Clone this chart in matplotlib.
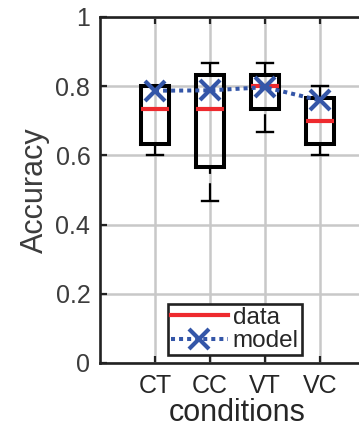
import matplotlib
matplotlib.use("Agg")
import matplotlib.pyplot as plt
from matplotlib.lines import Line2D

# Per-condition accuracy summaries
categories = ["CT", "CC", "VT", "VC"]
medians = [0.733, 0.733, 0.800, 0.700]
q1 = [0.633, 0.567, 0.733, 0.633]
q3 = [0.800, 0.833, 0.833, 0.767]
whisker_low = [0.600, 0.467, 0.667, 0.600]
whisker_high = [0.800, 0.867, 0.867, 0.800]
model = [0.787, 0.788, 0.797, 0.759]
yticks = [0, 0.2, 0.4, 0.6, 0.8, 1]
ytick_labels = ["0", "0.2", "0.4", "0.6", "0.8", "1"]

plt.rcParams["font.family"] = ["Liberation Sans", "DejaVu Sans"]

W, H = 359, 429
fig = plt.figure(figsize=(W / 100, H / 100), dpi=100)
fig.patch.set_facecolor("white")
# axes box continues past the right edge of the canvas
ax = fig.add_axes([100 / W, 66 / H, 275 / W, 346 / H])

positions = list(range(1, len(categories) + 1))
stats = [
    dict(med=m, q1=a, q3=b, whislo=lo, whishi=hi, fliers=[], label=c)
    for c, m, a, b, lo, hi in zip(categories, medians, q1, q3, whisker_low, whisker_high)
]
bp = ax.bxp(
    stats,
    positions=positions,
    widths=0.5,
    capwidths=0.28,
    showfliers=False,
    boxprops=dict(color="black", linewidth=2.9, solid_joinstyle="miter"),
    medianprops=dict(color="#ee2a2e", linewidth=3.0, solid_capstyle="butt"),
    whiskerprops=dict(color="black", linewidth=1.6, linestyle=(0, (8, 4.2))),
    capprops=dict(color="black", linewidth=1.7),
    zorder=3,
)
# dash pattern runs from the cap toward the box
for w in bp["whiskers"]:
    xd, yd = w.get_data()
    w.set_data(list(xd)[::-1], list(yd)[::-1])

model_line, = ax.plot(
    positions, model,
    color="#3456a8", linestyle=(0, (1, 1.0)), linewidth=2.9,
    marker="x", markersize=15, markeredgewidth=3.0, zorder=4,
)

ax.set_xlim(0, 5)
ax.set_ylim(0, 1)
ax.set_xticks(positions)
ax.set_xticklabels(categories)
ax.set_yticks(yticks)
ax.set_yticklabels(ytick_labels)

ax.grid(True, color="#c8c8c8", linewidth=1.8)
ax.set_axisbelow(True)
for s in ax.spines.values():
    s.set_linewidth(1.9)
    s.set_color("#222222")

ax.tick_params(axis="both", direction="in", length=5, width=1.6,
               top=True, right=True, color="#222222")
ax.tick_params(axis="y", labelsize=18, labelcolor="#3c3c3c", pad=7)
ax.tick_params(axis="x", labelsize=18, labelcolor="#262626", pad=8)

ax.set_ylabel("Accuracy", fontsize=22, color="#3c3c3c", labelpad=4)
ax.set_xlabel("conditions", fontsize=22, color="#262626", labelpad=0)

data_handle = Line2D([], [], color="#ee2a2e", linewidth=3.0)
leg = ax.legend(
    [data_handle, model_line], ["data", "model"],
    loc="lower left", bbox_to_anchor=(0.247, 0.023), borderaxespad=0,
    fontsize=17.5, handlelength=2.35, handletextpad=0.2, borderpad=0.12,
    labelspacing=0.05, fancybox=False, framealpha=1, edgecolor="#222222",
)
leg.get_frame().set_linewidth(1.9)
for t in leg.get_texts():
    t.set_color("#262626")

fig.savefig("out.png", dpi=100, facecolor="white")
